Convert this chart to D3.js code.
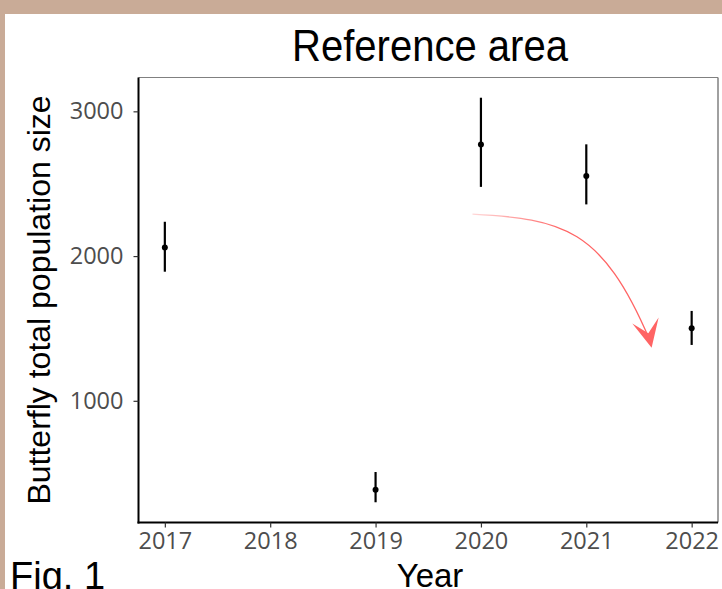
<!DOCTYPE html>
<html><head><meta charset="utf-8">
<script src="https://cdn.jsdelivr.net/npm/d3@7"></script>
<style>html,body{margin:0;padding:0;background:#c9ab97;}svg{display:block;}</style>
</head><body>
<script>
const years = [2017, 2019, 2020, 2021, 2022];
const means = [2060, 386, 2770, 2554, 1501];
const lower = [1892, 299, 2478, 2357, 1386];
const upper = [2237, 508, 3094, 2772, 1621];
const xTicks = [2017, 2018, 2019, 2020, 2021, 2022];
const yTicks = [1000, 2000, 3000];
const arrowFrom = [2019.92, 2290];
const arrowTo = [2021.62, 1366];

const W = 722, H = 589;
const svg = d3.select("body").append("svg").attr("width", W).attr("height", H);
svg.append("rect").attr("width", W).attr("height", H).attr("fill", "#c9ab97");
svg.append("rect").attr("x", 5).attr("y", 14).attr("width", W - 5).attr("height", H - 14).attr("fill", "#fff");

const L = 138.5, R = 718, T = 77.5, B = 522.5;
const yMin = d3.min(lower), yMax = d3.max(upper), pad = (yMax - yMin) * 0.05;
const x = d3.scaleLinear().domain([2016.75, 2022.25]).range([L, R]);
const y = d3.scaleLinear().domain([yMin - pad, yMax + pad]).range([B, T]);

// panel border (top/right gray)
svg.append("line").attr("x1", L).attr("x2", R).attr("y1", T).attr("y2", T).attr("stroke", "#808080").attr("stroke-width", 1.2);
svg.append("line").attr("x1", R).attr("x2", R).attr("y1", T).attr("y2", B).attr("stroke", "#808080").attr("stroke-width", 1.5);

// axes
const xAxis = svg.append("g").attr("transform", `translate(0,${B})`)
  .call(d3.axisBottom(x).tickValues(xTicks).tickFormat(d3.format("d")).tickSize(5).tickPadding(5));
const yAxis = svg.append("g").attr("transform", `translate(${L},0)`)
  .call(d3.axisLeft(y).tickValues(yTicks).tickFormat(d3.format("d")).tickSize(5).tickPadding(10));
[xAxis, yAxis].forEach(g => {
  g.select(".domain").attr("stroke", "#000").attr("stroke-width", 2);
  g.selectAll(".tick line").attr("stroke", "#333").attr("stroke-width", 1.2);
  g.selectAll(".tick text").attr("fill", "#4d4d4d").style("font-family", "'Open Sans'").style("font-size", "23.5px");
});
xAxis.select(".domain").attr("d", `M${L - 1},0H${R}`);
yAxis.select(".domain").attr("d", `M0,${T}V${B + 1}`);

// error bars and points
const data = years.map((yr, i) => ({yr, m: means[i], lo: lower[i], hi: upper[i]}));
svg.selectAll("line.err").data(data).enter().append("line")
  .attr("x1", d => x(d.yr)).attr("x2", d => x(d.yr))
  .attr("y1", d => y(d.lo)).attr("y2", d => y(d.hi))
  .attr("stroke", "#000").attr("stroke-width", 2.2);
svg.selectAll("circle.pt").data(data).enter().append("circle")
  .attr("cx", d => x(d.yr)).attr("cy", d => y(d.m)).attr("r", 3).attr("fill", "#000");

// curved arrow
const p0 = [x(arrowFrom[0]), y(arrowFrom[1])];
const p3 = [x(arrowTo[0]), y(arrowTo[1])];
const c1 = [p0[0] + 90, p0[1] + 5];
const c2 = [p3[0] - 130 * 0.382, p3[1] - 130 * 0.924];
const defs = svg.append("defs");
const grad = defs.append("linearGradient").attr("id", "fade").attr("gradientUnits", "userSpaceOnUse")
  .attr("x1", p0[0]).attr("y1", p0[1]).attr("x2", p0[0] + 90).attr("y2", p0[1] + 10);
grad.append("stop").attr("offset", 0).attr("stop-color", "#ff6464").attr("stop-opacity", 0.25);
grad.append("stop").attr("offset", 1).attr("stop-color", "#ff6464").attr("stop-opacity", 1);
const path = d3.path();
path.moveTo(p0[0], p0[1]);
path.bezierCurveTo(c1[0], c1[1], c2[0], c2[1], p3[0] - 2, p3[1] - 8);
svg.append("path").attr("d", path.toString()).attr("fill", "none").attr("stroke", "url(#fade)").attr("stroke-width", 1.3);
const dir = [0.22, 0.975], nrm = [dir[1], -dir[0]];
const tip = p3;
const back = [tip[0] - 28 * dir[0], tip[1] - 28 * dir[1]];
const notch = [tip[0] - 15 * dir[0], tip[1] - 15 * dir[1]];
const w1 = [back[0] + 13.5 * nrm[0], back[1] + 13.5 * nrm[1]];
const w2 = [back[0] - 13.5 * nrm[0], back[1] - 13.5 * nrm[1]];
svg.append("path").attr("d", `M${tip}L${w1}L${notch}L${w2}Z`).attr("fill", "#ff6464");

// titles
svg.append("text").attr("transform", "translate(430,61) scale(0.91,1)").attr("text-anchor", "middle")
  .style("font-family", "'Liberation Sans', Arial").style("font-size", "44px").attr("fill", "#000").text("Reference area");
svg.append("text").attr("x", 430).attr("y", 587).attr("text-anchor", "middle")
  .style("font-family", "'Liberation Sans', Arial").style("font-size", "33px").attr("fill", "#000").text("Year");
svg.append("text").attr("transform", "translate(50,300) rotate(-90)").attr("text-anchor", "middle")
  .style("font-family", "'Liberation Sans', Arial").style("font-size", "32px").attr("fill", "#000").text("Butterfly total population size");
svg.append("text").attr("x", 10).attr("y", 589)
  .style("font-family", "'Liberation Sans', Arial").style("font-size", "38px").attr("fill", "#000").text("Fig. 1");
</script>
</body></html>
